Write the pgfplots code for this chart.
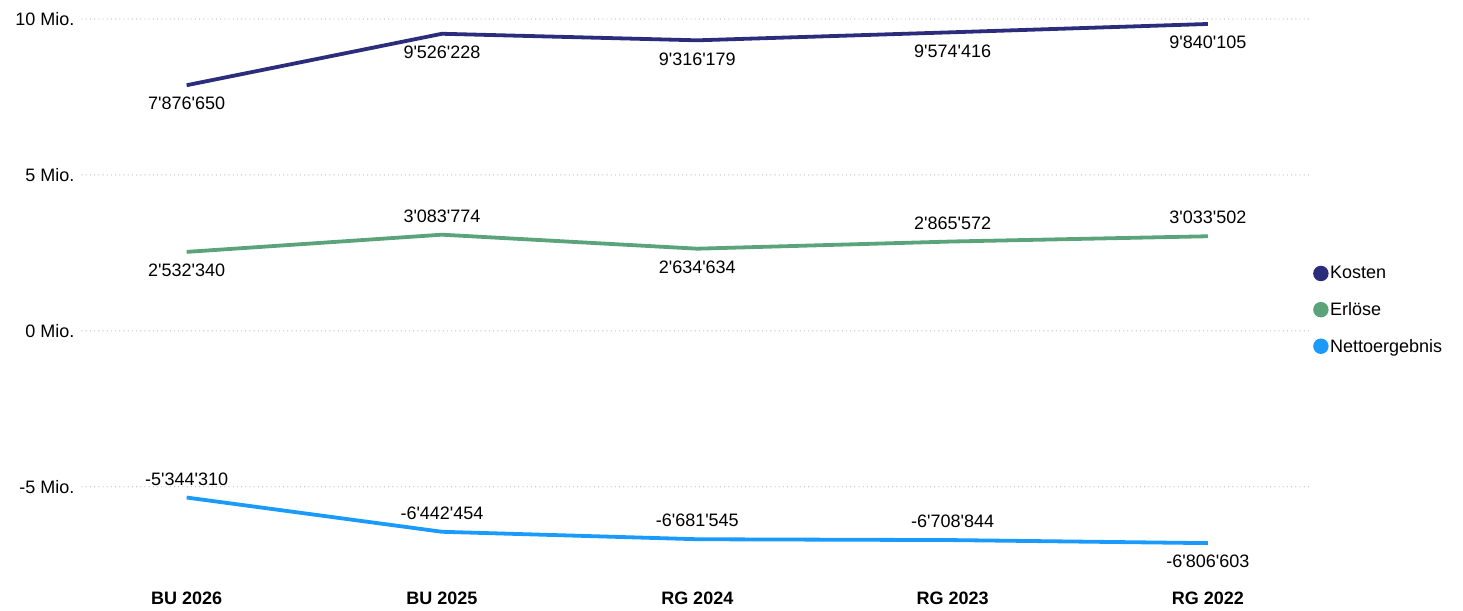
\documentclass[border=0pt]{standalone}
\usepackage{fontspec}
\setmainfont{Liberation Sans}
\newfontfamily\arial{Liberation Sans}
\usepackage{pgfplots}
\pgfplotsset{compat=1.18}
\usetikzlibrary{calc}
\definecolor{kosten}{HTML}{2B2C7C}
\definecolor{erl}{HTML}{5BA37B}
\definecolor{netto}{HTML}{1A9BFC}

\pgfplotsset{
  lblbelow/.style={forget plot, draw=none, mark=none,
    nodes near coords, point meta=explicit symbolic,
    every node near coord/.style={font=\arial\fontsize{18bp}{21bp}\selectfont, text=black, inner sep=0pt, anchor=north, yshift=-12bp}},
  lblabove/.style={forget plot, draw=none, mark=none,
    nodes near coords, point meta=explicit symbolic,
    every node near coord/.style={font=\arial\fontsize{18bp}{21bp}\selectfont, text=black, inner sep=0pt, anchor=south, yshift=12bp}},
}

\begin{document}
\begin{tikzpicture}
\begin{axis}[
  scale only axis, width=1228bp, height=552bp,
  xmin=-0.41, xmax=4.4, ymin=-7.7e6, ymax=10e6,
  axis line style={draw=none},
  major tick length=0pt,
  xtick={0,1,2,3,4},
  xticklabels={BU 2026,BU 2025,RG 2024,RG 2023,RG 2022},
  xticklabel style={font=\arial\bfseries\fontsize{18bp}{21bp}\selectfont, yshift=-17bp},
  ytick={-5e6,0,5e6,10e6},
  yticklabels={-5 Mio.,0 Mio.,5 Mio.,10 Mio.},
  yticklabel style={font=\arial\fontsize{18bp}{21bp}\selectfont, xshift=-4bp},
  scaled y ticks=false,
  ymajorgrids,
  grid style={gray!45, line width=1.4bp, dash pattern=on 0bp off 4.2bp, line cap=round},
  clip=false,
  legend image code/.code={\fill[#1] (5bp,0bp) circle (5.8bp);},
  legend style={at={(1.0,0.4728)}, anchor=west, draw=none, fill=none,
    font=\arial\fontsize{18bp}{21bp}\selectfont, row sep=19bp,
    nodes={inner sep=1.5bp}},
  legend cell align=left,
]
\addplot[kosten, line width=3.8bp, no markers] coordinates {(0,7876650) (1,9526228) (2,9316179) (3,9574416) (4,9840105)};
\addlegendentry{Kosten}
\addplot[erl, line width=3.8bp, no markers] coordinates {(0,2532340) (1,3083774) (2,2634634) (3,2865572) (4,3033502)};
\addlegendentry{Erlöse}
\addplot[netto, line width=3.8bp, no markers] coordinates {(0,-5344310) (1,-6442454) (2,-6681545) (3,-6708844) (4,-6806603)};
\addlegendentry{Nettoergebnis}
% labels
\addplot[lblbelow] coordinates {(0,7876650)[7'876'650] (1,9526228)[9'526'228] (2,9316179)[9'316'179] (3,9574416)[9'574'416] (4,9840105)[9'840'105]};
\addplot[lblbelow] coordinates {(0,2532340)[2'532'340] (2,2634634)[2'634'634]};
\addplot[lblabove] coordinates {(1,3083774)[3'083'774] (3,2865572)[2'865'572] (4,3033502)[3'033'502]};
\addplot[lblabove] coordinates {(0,-5344310)[-5'344'310] (1,-6442454)[-6'442'454] (2,-6681545)[-6'681'545] (3,-6708844)[-6'708'844]};
\addplot[lblbelow] coordinates {(4,-6806603)[-6'806'603]};
\end{axis}
\pgfresetboundingbox
\path ($(current axis.south west)+(-82bp,-39bp)$) rectangle ($(current axis.north east)+(153bp,19bp)$);
\end{tikzpicture}
\end{document}
